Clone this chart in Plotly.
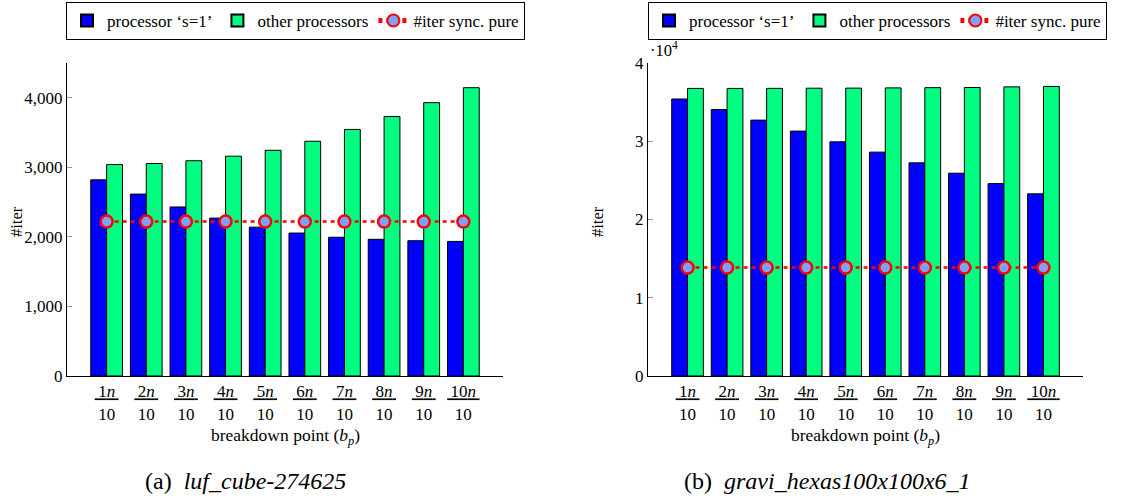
import plotly.graph_objects as go

# ---------------- data ----------------
x_pos = [1, 2, 3, 4, 5, 6, 7, 8, 9, 10]
tick_num = ["1<i>n</i>", "2<i>n</i>", "3<i>n</i>", "4<i>n</i>", "5<i>n</i>",
            "6<i>n</i>", "7<i>n</i>", "8<i>n</i>", "9<i>n</i>", "10<i>n</i>"]
tick_den = ["10"] * 10

# (a) luf_cube-274625
a_s1 = [2820, 2615, 2430, 2270, 2140, 2055, 1995, 1965, 1945, 1935]
a_other = [3040, 3055, 3095, 3160, 3245, 3375, 3545, 3730, 3930, 4145]
a_sync = [2220, 2220, 2220, 2220, 2220, 2220, 2220, 2220, 2220, 2220]
a_yticks = [0, 1000, 2000, 3000, 4000]
a_yticktext = ["0", "1,000", "2,000", "3,000", "4,000"]

# (b) gravi_hexas100x100x6_1
b_s1 = [35400, 34050, 32700, 31300, 29930, 28610, 27240, 25920, 24590, 23280]
b_other = [36750, 36750, 36760, 36780, 36790, 36820, 36850, 36870, 36950, 37000]
b_sync = [13850, 13850, 13850, 13850, 13850, 13850, 13850, 13850, 13850, 13850]
b_yticks = [0, 10000, 20000, 30000, 40000]
b_yticktext = ["0", "1", "2", "3", "4"]

names = ["processor \u2018s=1\u2019", "other processors", "#iter sync. pure"]

# ---------------- style ----------------
SERIF = "Liberation Serif, Times New Roman, Times, serif"
BLUE = "rgb(0,0,255)"
GREEN = "rgb(0,255,128)"
RED = "rgb(255,0,0)"
MFILL = "rgb(128,160,255)"

W, H = 1123, 500
def px(x):
    return x / W
def py(y):
    return 1 - y / H

xtext = [f"<u>&#8201;{n}&#8201;</u><br>{d}" for n, d in zip(tick_num, tick_den)]

fig = go.Figure()

def add_panel(xa, ya, leg, s1, other, sync):
    fig.add_trace(go.Bar(x=x_pos, y=s1, name=names[0], xaxis=xa, yaxis=ya, legend=leg,
                         marker=dict(color=BLUE, line=dict(color="black", width=1))))
    fig.add_trace(go.Bar(x=x_pos, y=other, name=names[1], xaxis=xa, yaxis=ya, legend=leg,
                         marker=dict(color=GREEN, line=dict(color="black", width=1))))
    fig.add_trace(go.Scatter(x=x_pos, y=sync, name=names[2], xaxis=xa, yaxis=ya, legend=leg,
                             mode="lines+markers",
                             line=dict(color=RED, width=2.5, dash="4px,4px"),
                             marker=dict(size=12, color=MFILL, line=dict(color=RED, width=2.5))))

add_panel("x", "y", "legend", a_s1, a_other, a_sync)
add_panel("x2", "y2", "legend2", b_s1, b_other, b_sync)

xcommon = dict(range=[0, 11], tickvals=x_pos, ticktext=xtext, showgrid=False, zeroline=False,
               showline=True, linecolor="black", linewidth=1, ticks="", automargin=False,
               tickfont=dict(family=SERIF, size=17, color="black"))
ycommon = dict(showgrid=False, zeroline=False, showline=True, linecolor="black", linewidth=1,
               ticks="inside", ticklen=5, tickcolor="rgb(150,150,150)", automargin=False,
               tickfont=dict(family=SERIF, size=17, color="black"))

legcommon = dict(orientation="h", xanchor="left", yanchor="middle",
                 bgcolor="white", bordercolor="black", borderwidth=1,
                 font=dict(family=SERIF, size=17, color="black"),
                 tracegroupgap=0, itemsizing="constant", itemwidth=30)

fig.update_layout(
    template="none",
    width=W, height=H,
    margin=dict(l=0, r=0, t=0, b=0, autoexpand=False),
    font=dict(family=SERIF, size=17, color="black"),
    paper_bgcolor="white", plot_bgcolor="white",
    barmode="group", bargap=0.2, bargroupgap=0,
    xaxis=dict(domain=[px(67), px(503)], anchor="y", **xcommon),
    yaxis=dict(domain=[py(376), py(63)], anchor="x", range=[0, 4500],
               tickvals=a_yticks, ticktext=a_yticktext, **ycommon),
    xaxis2=dict(domain=[px(648), px(1083)], anchor="y2", **xcommon),
    yaxis2=dict(domain=[py(376), py(63)], anchor="x2", range=[0, 40000],
                tickvals=b_yticks, ticktext=b_yticktext, **ycommon),
    legend=dict(x=px(66), y=py(21), **legcommon),
    legend2=dict(x=px(648), y=py(21), **legcommon),
    showlegend=True,
)

ann_font = dict(family=SERIF, size=16.5, color="black")
xt_font = dict(family=SERIF, size=17.5, color="black")
annotations = [
    dict(text="#iter", x=px(17), y=py(222), textangle=-90, font=ann_font),
    dict(text="#iter", x=px(598), y=py(222), textangle=-90, font=ann_font),
    dict(text="breakdown point (<i>b</i><sub><i>p</i></sub>)", x=px(285), y=py(436), font=xt_font),
    dict(text="breakdown point (<i>b</i><sub><i>p</i></sub>)", x=px(865), y=py(436), font=xt_font),
    dict(text="\u00b710<sup>4</sup>", x=px(648), y=py(50), xanchor="left", font=ann_font),
    dict(text="(a)&nbsp;&nbsp;<i>luf_cube-274625</i>", x=px(245), y=py(481),
         font=dict(family=SERIF, size=24, color="black")),
    dict(text="(b)&nbsp;&nbsp;<i>gravi_hexas100x100x6_1</i>", x=px(827), y=py(481),
         font=dict(family=SERIF, size=24, color="black")),
]
for a in annotations:
    a.update(xref="paper", yref="paper", showarrow=False,
             xanchor=a.get("xanchor", "center"), yanchor="middle")
fig.update_layout(annotations=annotations)

fig.write_html("out.html", config={"displayModeBar": False},
               post_script="document.body.style.margin='0px';document.body.style.overflow='hidden';")
